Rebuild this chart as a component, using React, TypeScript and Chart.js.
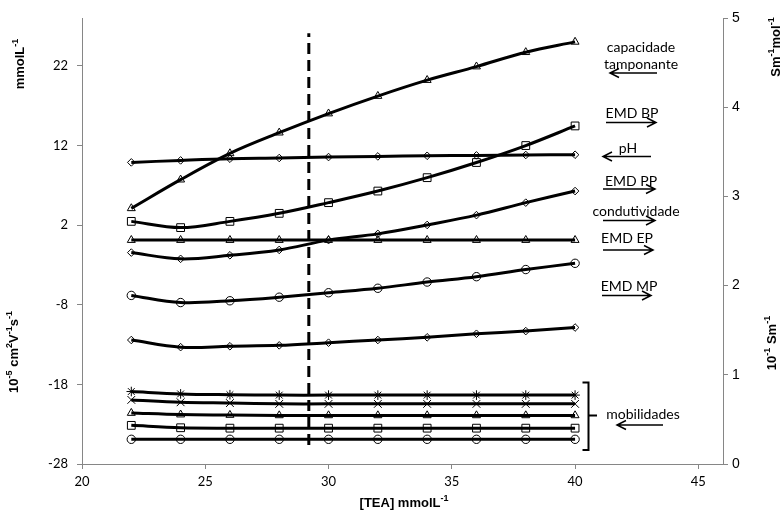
import React, { useEffect, useRef } from 'react';
import { Chart, registerables } from 'chart.js';

Chart.register(...registerables);

// ---------- data ----------
const tea = [22, 24, 26, 28, 30, 32, 34, 36, 38, 40];

// left axis (mmolL-1 / pH)
const capacidadeTamponante = [4.1, 7.7, 11.0, 13.6, 16.0, 18.2, 20.2, 21.9, 23.7, 25.0];
const pH = [9.87, 10.12, 10.33, 10.42, 10.54, 10.62, 10.7, 10.75, 10.8, 10.83];

// right axis (Sm-1mol-1 / 10-1 Sm-1)
const emdBP = [2.72, 2.65, 2.72, 2.81, 2.93, 3.06, 3.21, 3.38, 3.57, 3.79];
const emdPP = [2.37, 2.3, 2.34, 2.4, 2.51, 2.58, 2.68, 2.79, 2.93, 3.06];
const emdEP = [2.51, 2.51, 2.51, 2.51, 2.51, 2.51, 2.51, 2.51, 2.51, 2.51];
const emdMP = [1.89, 1.81, 1.83, 1.87, 1.92, 1.97, 2.04, 2.1, 2.18, 2.25];
const condutividade = [1.39, 1.31, 1.32, 1.33, 1.36, 1.39, 1.42, 1.46, 1.49, 1.53];

// mobilities (left axis, 10-5 cm2V-1s-1)
const mobStar = [-18.9, -19.2, -19.3, -19.35, -19.35, -19.35, -19.35, -19.35, -19.35, -19.35];
const mobCross = [-19.95, -20.25, -20.35, -20.45, -20.45, -20.45, -20.45, -20.45, -20.45, -20.45];
const mobTriangle = [-21.6, -21.8, -21.85, -21.9, -21.9, -21.9, -21.9, -21.9, -21.9, -21.9];
const mobSquare = [-23.15, -23.45, -23.5, -23.5, -23.5, -23.5, -23.5, -23.5, -23.5, -23.5];
const mobCircle = [-24.9, -24.9, -24.9, -24.9, -24.9, -24.9, -24.9, -24.9, -24.9, -24.9];

// vertical dashed marker
const markerTEA = 29.2;
const markerRange = [-25.6, 26.1];

// ticks
const xTicks = [20, 25, 30, 35, 40, 45];
const leftTicks = [-28, -18, -8, 2, 12, 22];
const rightTicks = [0, 1, 2, 3, 4, 5];

// annotation labels
const labelCapacidade = ['capacidade', 'tamponante'];
const labelEmdBP = 'EMD BP';
const labelPH = 'pH';
const labelEmdPP = 'EMD PP';
const labelCond = 'condutividade';
const labelEmdEP = 'EMD EP';
const labelEmdMP = 'EMD MP';
const labelMob = 'mobilidades';

const pts = (ys: number[]) => tea.map((x, i) => ({ x, y: ys[i] }));

type Part = [string, boolean?];

function drawRich(
  ctx: CanvasRenderingContext2D,
  parts: Part[],
  cx: number,
  cy: number,
  rot: number,
  size: number,
  bold: boolean,
  family: string
) {
  const b = bold ? 'bold ' : '';
  const base = `${b}${size}px ${family}`;
  const supSize = Math.round(size * 0.68);
  const sup = `${b}${supSize}px ${family}`;
  ctx.save();
  ctx.translate(cx, cy);
  ctx.rotate(rot);
  ctx.textBaseline = 'middle';
  ctx.textAlign = 'left';
  let total = 0;
  const widths = parts.map(([t, s]) => {
    ctx.font = s ? sup : base;
    const w = ctx.measureText(t).width;
    total += w;
    return w;
  });
  let x = -total / 2;
  parts.forEach(([t, s], i) => {
    ctx.font = s ? sup : base;
    ctx.fillStyle = '#000';
    ctx.fillText(t, x, s ? -size * 0.33 : 0);
    x += widths[i];
  });
  ctx.restore();
}

function arrow(ctx: CanvasRenderingContext2D, x1: number, y: number, x2: number) {
  const dir = x2 > x1 ? 1 : -1;
  ctx.save();
  ctx.strokeStyle = '#000';
  ctx.lineWidth = 1.5;
  ctx.beginPath();
  ctx.moveTo(x1, y);
  ctx.lineTo(x2, y);
  ctx.moveTo(x2 - dir * 9, y - 4.5);
  ctx.lineTo(x2, y);
  ctx.lineTo(x2 - dir * 9, y + 4.5);
  ctx.stroke();
  ctx.restore();
}

const annotationPlugin = {
  id: 'annotations',
  afterDraw(chart: any) {
    const ctx: CanvasRenderingContext2D = chart.ctx;
    const titleFont = '"Liberation Sans", Arial, sans-serif';
    const noteFont = 'Lato, "Open Sans", sans-serif';

    // axis titles
    drawRich(ctx, [['mmolL'], ['-1', true]], 20, 64, -Math.PI / 2, 13, true, titleFont);
    drawRich(
      ctx,
      [['10'], ['-5', true], [' cm'], ['2', true], ['V'], ['-1', true], ['s'], ['-1', true]],
      14,
      352,
      -Math.PI / 2,
      13,
      true,
      titleFont
    );
    drawRich(ctx, [['Sm'], ['-1', true], ['mol'], ['-1', true]], 776, 47, -Math.PI / 2, 13, true, titleFont);
    drawRich(ctx, [['10'], ['-1', true], [' Sm'], ['-1', true]], 772, 343, -Math.PI / 2, 13, true, titleFont);
    drawRich(ctx, [['[TEA] mmolL'], ['-1', true]], 404, 503, 0, 13, true, titleFont);

    // notes
    ctx.save();
    ctx.fillStyle = '#000';
    ctx.font = `14px ${noteFont}`;
    ctx.textAlign = 'center';
    ctx.textBaseline = 'middle';
    ctx.fillText(labelCapacidade[0], 641, 47);
    ctx.fillText(labelCapacidade[1], 641, 64);
    ctx.fillText(labelEmdBP, 632, 113);
    ctx.fillText(labelPH, 628, 148);
    ctx.fillText(labelEmdPP, 631, 181);
    ctx.fillText(labelCond, 636, 211);
    ctx.fillText(labelEmdEP, 627, 238);
    ctx.fillText(labelEmdMP, 629, 286);
    ctx.fillText(labelMob, 643, 414);
    ctx.restore();

    arrow(ctx, 657, 73, 610);
    arrow(ctx, 606, 122.5, 656);
    arrow(ctx, 651, 156.5, 603);
    arrow(ctx, 603, 189, 655);
    arrow(ctx, 603, 220.5, 655);
    arrow(ctx, 603, 250, 653);
    arrow(ctx, 602, 295.5, 651);
    arrow(ctx, 663, 425, 617);

    // bracket
    ctx.save();
    ctx.strokeStyle = '#000';
    ctx.lineWidth = 2;
    ctx.beginPath();
    ctx.moveTo(582.5, 382.5);
    ctx.lineTo(588.5, 382.5);
    ctx.lineTo(588.5, 450);
    ctx.lineTo(582.5, 450);
    ctx.moveTo(588.5, 415.5);
    ctx.lineTo(597, 415.5);
    ctx.stroke();
    ctx.restore();
  },
};

const lineDs = (
  label: string,
  data: number[],
  pointStyle: string,
  radius: number,
  yAxisID = 'y'
) => ({
  label,
  data: pts(data),
  yAxisID,
  borderColor: '#000',
  borderWidth: 3,
  tension: 0.35,
  pointStyle,
  pointRadius: radius,
  pointBorderColor: '#000',
  pointBorderWidth: 1,
  pointBackgroundColor: 'rgba(0,0,0,0)',
  fill: false,
});

export default function App() {
  const ref = useRef<HTMLCanvasElement | null>(null);

  useEffect(() => {
    if (!ref.current) return;
    const axisGrey = '#868686';
    const chart = new Chart(ref.current, {
      type: 'line',
      data: {
        datasets: [
          lineDs('capacidade tamponante', capacidadeTamponante, 'triangle', 4.6),
          lineDs('pH', pH, 'rectRot', 3.8),
          lineDs('EMD BP', emdBP, 'rect', 5.5, 'y1'),
          lineDs('EMD PP', emdPP, 'rectRot', 3.8, 'y1'),
          lineDs('EMD EP', emdEP, 'triangle', 4.6, 'y1'),
          lineDs('EMD MP', emdMP, 'circle', 4.2, 'y1'),
          lineDs('condutividade', condutividade, 'rectRot', 3.8, 'y1'),
          lineDs('mobilidade 1', mobStar, 'star', 4.8),
          lineDs('mobilidade 2', mobCross, 'crossRot', 5.5),
          lineDs('mobilidade 3', mobTriangle, 'triangle', 4.6),
          lineDs('mobilidade 4', mobSquare, 'rect', 5.5),
          lineDs('mobilidade 5', mobCircle, 'circle', 4.2),
          {
            label: 'marker',
            data: [
              { x: markerTEA, y: markerRange[0] },
              { x: markerTEA, y: markerRange[1] },
            ],
            yAxisID: 'y',
            borderColor: '#000',
            borderWidth: 3,
            borderDash: [11, 6],
            pointRadius: 0,
            tension: 0,
            fill: false,
          },
        ] as any,
      },
      options: {
        responsive: false,
        animation: false,
        devicePixelRatio: 1,
        layout: { padding: { top: 18, left: 0, right: 0, bottom: 0 } },
        plugins: {
          legend: { display: false },
          tooltip: { enabled: false },
        },
        scales: {
          x: {
            type: 'linear',
            min: 20,
            max: 46,
            afterBuildTicks: (s: any) => {
              s.ticks = xTicks.map((v) => ({ value: v }));
            },
            afterFit: (s: any) => {
              s.height = 47;
            },
            grid: { drawOnChartArea: false, drawTicks: true, tickLength: 5, color: axisGrey },
            border: { display: true, color: axisGrey, width: 1 },
            ticks: {
              color: '#000',
              padding: 5,
              maxRotation: 0,
              font: { family: 'Lato, "Open Sans", sans-serif', size: 13 },
            },
          },
          y: {
            type: 'linear',
            position: 'left',
            min: -28,
            max: 28,
            afterBuildTicks: (s: any) => {
              s.ticks = leftTicks.map((v) => ({ value: v }));
            },
            afterFit: (s: any) => {
              s.width = 82;
            },
            grid: { drawOnChartArea: false, drawTicks: true, tickLength: 5, color: axisGrey },
            border: { display: true, color: axisGrey, width: 1 },
            ticks: {
              color: '#000',
              padding: 9,
              font: { family: 'Lato, "Open Sans", sans-serif', size: 13 },
            },
          },
          y1: {
            type: 'linear',
            position: 'right',
            min: 0,
            max: 5,
            afterBuildTicks: (s: any) => {
              s.ticks = rightTicks.map((v) => ({ value: v }));
            },
            afterFit: (s: any) => {
              s.width = 61;
            },
            grid: { drawOnChartArea: false, drawTicks: true, tickLength: 5, color: axisGrey },
            border: { display: true, color: axisGrey, width: 1 },
            ticks: {
              color: '#000',
              padding: 4,
              font: { family: '"Liberation Sans", Arial, sans-serif', size: 14 },
            },
          },
        },
      } as any,
      plugins: [annotationPlugin],
    });
    return () => chart.destroy();
  }, []);

  return (
    <div style={{ position: 'absolute', left: 0, top: 0, width: 784, height: 511, background: '#fff' }}>
      <canvas ref={ref} width={784} height={511} style={{ width: 784, height: 511, display: 'block' }} />
    </div>
  );
}
